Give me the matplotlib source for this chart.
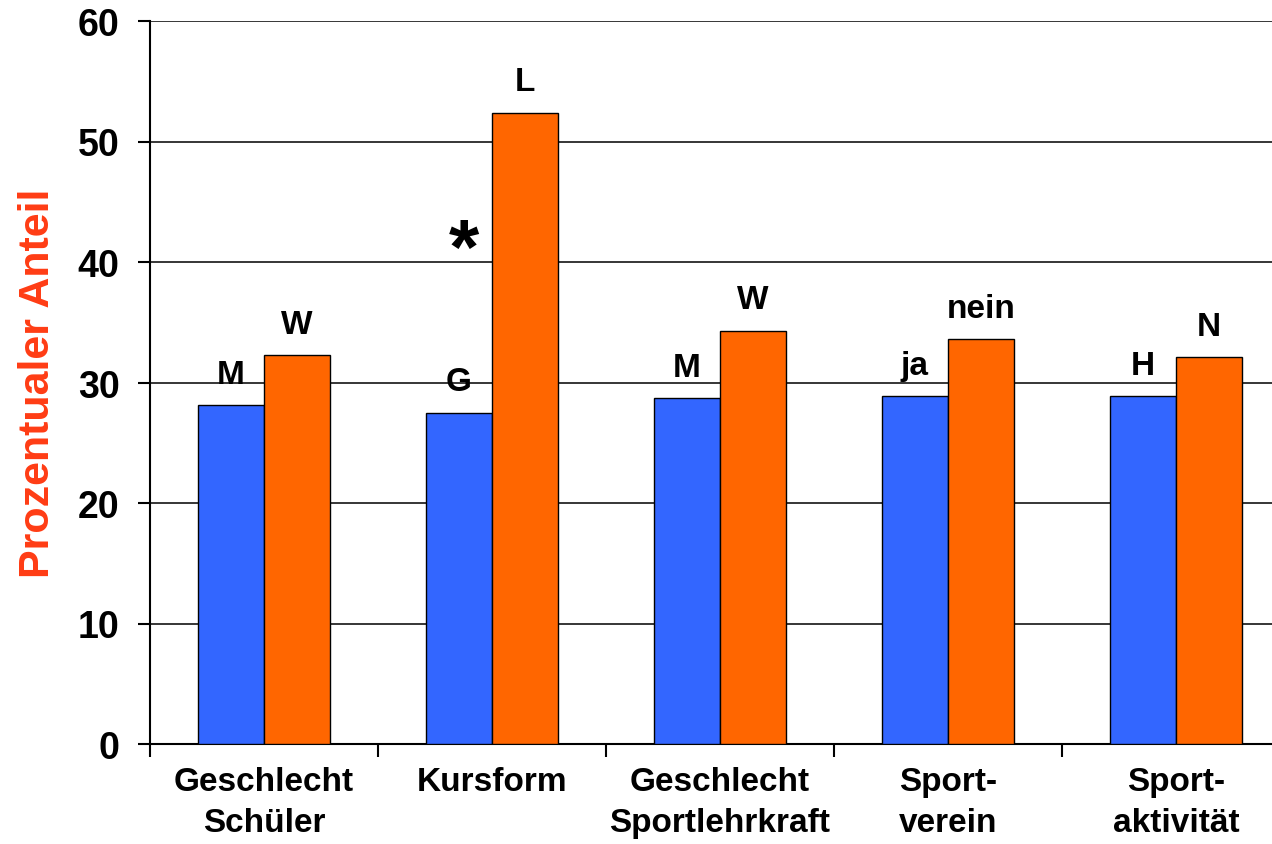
import matplotlib.pyplot as plt
import numpy as np

categories = ['Geschlecht\nSchüler', 'Kursform', 'Geschlecht\nSportlehrkraft',
              'Sport-\nverein', 'Sport-\naktivität']
left_values = [28.1, 27.5, 28.7, 28.9, 28.9]
right_values = [32.3, 52.4, 34.3, 33.6, 32.1]
left_labels = ['M', 'G', 'M', 'ja', 'H']
right_labels = ['W', 'L', 'W', 'nein', 'N']
yticks = [0, 10, 20, 30, 40, 50, 60]

plt.rcParams['font.family'] = ['Liberation Sans', 'DejaVu Sans']
plt.rcParams['font.weight'] = 'bold'

fig = plt.figure(figsize=(12.72, 8.45), dpi=100)
ax = fig.add_axes([150 / 1272, 100 / 845, 1140 / 1272, 723 / 845])

x = np.arange(len(categories))
w = 0.29
ax.bar(x - w / 2, left_values, w, color='#3366FF', edgecolor='k', lw=1, zorder=3)
ax.bar(x + w / 2, right_values, w, color='#FF6600', edgecolor='k', lw=1, zorder=3)

for xi, v, s in zip(x - w / 2, left_values, left_labels):
    ax.annotate(s, (xi, v), xytext=(0, 16), textcoords='offset points',
                ha='center', va='baseline', fontsize=24, fontweight='bold')
for xi, v, s in zip(x + w / 2, right_values, right_labels):
    ax.annotate(s, (xi, v), xytext=(0, 16), textcoords='offset points',
                ha='center', va='baseline', fontsize=24, fontweight='bold')

# significance marker next to the tall bar
ax.text(1 - 0.125, 39.1, '*', fontsize=56, ha='center', va='baseline',
        fontweight='bold')

ax.set_xlim(-0.5, 4.5)
ax.set_ylim(0, 60)
ax.set_yticks(yticks)
ax.set_xticks(x)
ax.set_xticklabels(categories, linespacing=1.4)
ax.set_xticks(np.arange(-0.5, 5, 1), minor=True)

ax.yaxis.grid(True, color='k', lw=1.1)
ax.set_axisbelow(True)
for sp in ['top', 'right']:
    ax.spines[sp].set_visible(False)
for sp in ['left', 'bottom']:
    ax.spines[sp].set_linewidth(1.5)

ax.tick_params(axis='x', which='major', length=0, pad=16, labelsize=24)
ax.tick_params(axis='x', which='minor', length=9, width=1.5, direction='out')
ax.tick_params(axis='y', length=9, width=1.5, pad=13, labelsize=27)

ax.set_ylabel('Prozentualer Anteil', fontsize=31, color='#FF3C14',
              fontweight='bold')
ax.yaxis.set_label_coords(-0.0807, 0.5)

plt.savefig('out.png')
plt.close()
